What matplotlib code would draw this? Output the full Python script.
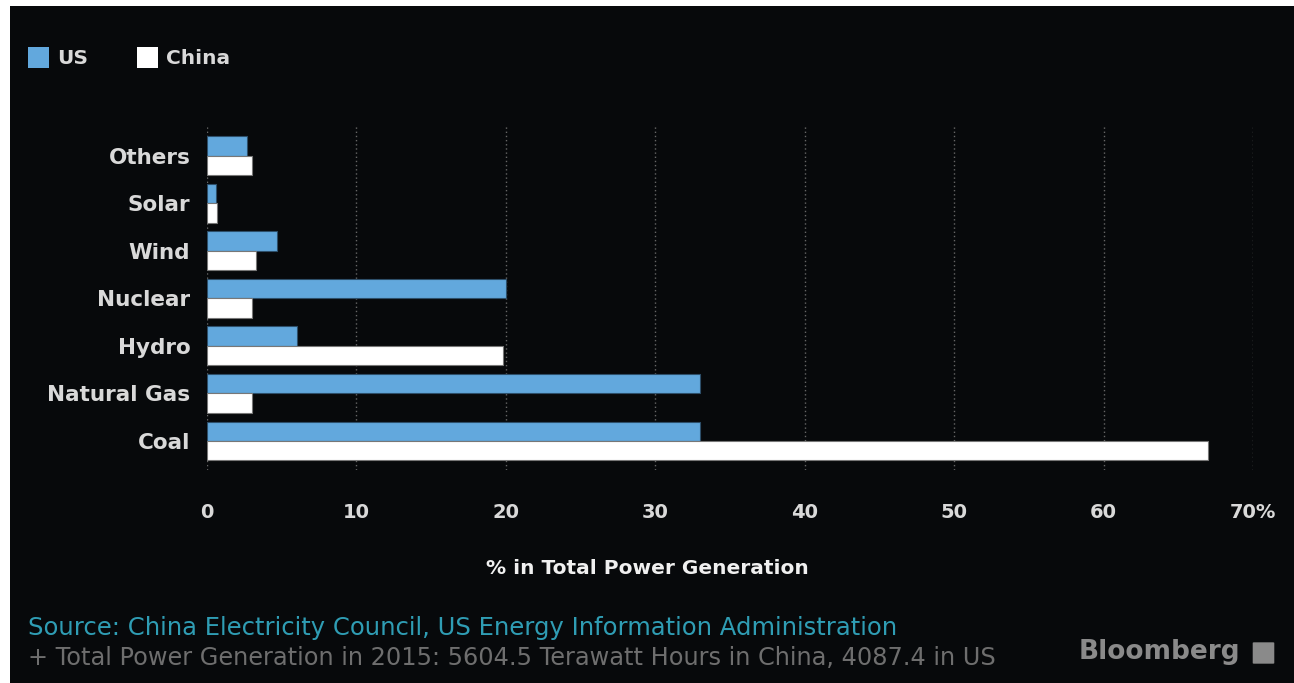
import matplotlib
matplotlib.use("Agg")
import matplotlib.pyplot as plt
from matplotlib.patches import Rectangle, FancyBboxPatch
import numpy as np

# Share of total power generation, 2015 (%)
categories = ["Coal", "Natural Gas", "Hydro", "Nuclear", "Wind", "Solar", "Others"]
us_share = [33.0, 33.0, 6.0, 20.0, 4.7, 0.6, 2.7]
china_share = [67.0, 3.0, 19.8, 3.0, 3.3, 0.7, 3.0]
x_ticks = [0, 10, 20, 30, 40, 50, 60, 70]
x_tick_labels = ["0", "10", "20", "30", "40", "50", "60", "70%"]

BG = "#07090b"
BLUE = "#62a8dd"
WHITE = "#ffffff"
LABEL = "#d9d9d9"

W, H = 1294, 683
fig = plt.figure(figsize=(W / 100, H / 100), dpi=100, facecolor=BG)

# thin white margin along the top and left edges
fig.patches.append(Rectangle((0, 1 - 6 / H), 1, 6 / H, transform=fig.transFigure,
                             facecolor="white", edgecolor="none", zorder=-5))
fig.patches.append(Rectangle((0, 0), 10 / W, 1, transform=fig.transFigure,
                             facecolor="white", edgecolor="none", zorder=-5))

ax = fig.add_axes([207 / W, 1 - 470 / H, (1253 - 207) / W, (470 - 125) / H])
ax.set_facecolor(BG)

y = np.arange(len(categories))
h = 0.41
ax.barh(y + h / 2, us_share, height=h, color=BLUE, edgecolor="#2d4f6a",
        linewidth=0.8, zorder=3)
ax.barh(y - h / 2, china_share, height=h, color=WHITE, edgecolor="#777777",
        linewidth=0.8, zorder=3)

ax.set_xlim(0, 70)
ax.set_ylim(-0.61, 6.65)
ax.set_xticks(x_ticks)
ax.set_xticklabels(x_tick_labels)
ax.set_yticks(y)
ax.set_yticklabels(categories)

ax.grid(axis="x", color="#666666", linestyle=(0, (1, 2)), linewidth=1, zorder=1)
ax.grid(axis="y", visible=False)
for s in ax.spines.values():
    s.set_visible(False)
ax.tick_params(axis="both", length=0, colors=LABEL)
ax.tick_params(axis="x", pad=24, labelsize=14)
ax.tick_params(axis="y", pad=12, labelsize=15.5)
for t in ax.get_xticklabels() + ax.get_yticklabels():
    t.set_fontweight("bold")
    t.set_color(LABEL)

fig.text(0.5, 1 - 568 / H, "% in Total Power Generation", ha="center",
         va="center", fontsize=14.5, fontweight="bold", color="#f0f0f0")

# legend
fig.patches.append(Rectangle((28 / W, 1 - 68 / H), 21 / W, 21 / H,
                             transform=fig.transFigure, facecolor=BLUE,
                             edgecolor="none"))
fig.text(57 / W, 1 - 59 / H, "US", ha="left", va="center", fontsize=14.5,
         fontweight="bold", color=LABEL)
fig.patches.append(Rectangle((137 / W, 1 - 68 / H), 21 / W, 21 / H,
                             transform=fig.transFigure, facecolor=WHITE,
                             edgecolor="none"))
fig.text(166 / W, 1 - 59 / H, "China", ha="left", va="center", fontsize=14.5,
         fontweight="bold", color=LABEL)

# footer
fig.text(28 / W, 1 - 628 / H,
         "Source: China Electricity Council, US Energy Information Administration",
         ha="left", va="center", fontsize=17.5, color="#2f9db4")
fig.text(28 / W, 1 - 658 / H,
         "+ Total Power Generation in 2015: 5604.5 Terawatt Hours in China, 4087.4 in US",
         ha="left", va="center", fontsize=17.3, color="#6e6e6e")

fig.text(1240 / W, 1 - 652 / H, "Bloomberg", ha="right", va="center",
         fontsize=19, fontweight="bold", color="#8a8a8a")
fig.patches.append(FancyBboxPatch((1254 / W, 1 - 663 / H), 19 / W, 20 / H,
                                  boxstyle="round,pad=0.001",
                                  transform=fig.transFigure,
                                  facecolor="#8a8a8a", edgecolor="none"))

fig.savefig("out.png", dpi=100, facecolor=fig.get_facecolor())
